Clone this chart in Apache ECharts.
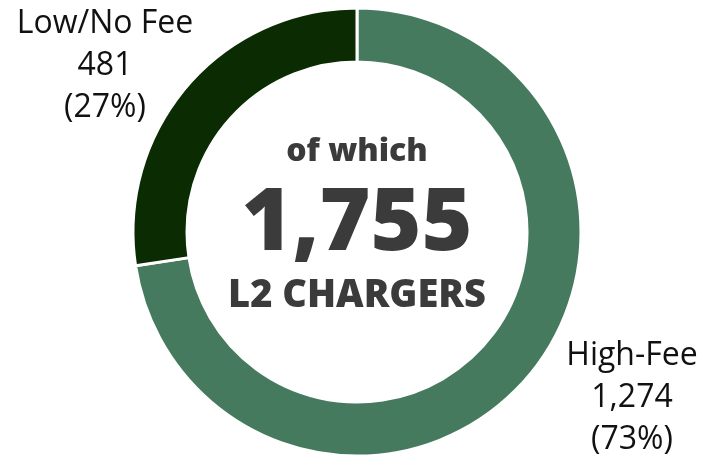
<!DOCTYPE html>
<html>
<head>
<meta charset="utf-8">
<script src="https://cdn.jsdelivr.net/npm/echarts@6/dist/echarts.min.js"></script>
<style>
  html, body { margin: 0; padding: 0; background: #fff; }
  #chart { width: 703px; height: 456px; }
</style>
</head>
<body>
<div id="chart"></div>
<script>
var categories = ["High-Fee", "Low/No Fee"];
var values = [1274, 481];
var colors = ["#467a5e", "#0b2b02"];
var centerLines = ["of which", "L2 CHARGERS"];

var total = values.reduce(function (a, b) { return a + b; }, 0);

var dom = document.getElementById("chart");
var myChart = echarts.init(dom, null, { renderer: "canvas" });

var pieData = categories.map(function (name, i) {
  return { name: name, value: values[i], itemStyle: { color: colors[i] } };
});

var option = {
  animation: false,
  textStyle: { fontFamily: "Open Sans" },
  series: [
    {
      type: "pie",
      center: [357, 232],
      radius: [170, 224],
      startAngle: 90,
      clockwise: true,
      itemStyle: { borderColor: "#fff", borderWidth: 3 },
      label: {
        show: true,
        position: "outside",
        fontFamily: "Open Sans",
        fontSize: 32,
        lineHeight: 42,
        color: "#111",
        align: "center",
        overflow: "none",
        width: 300,
        formatter: function (p) {
          return p.name + "\n" + p.value.toLocaleString("en-US") + "\n(" + Math.round(p.percent) + "%)";
        }
      },
      labelLine: { show: false },
      labelLayout: function (params) {
        if (params.dataIndex === 0) {
          return { x: 632, y: 398, align: "center", verticalAlign: "middle" };
        }
        return { x: 105, y: 66, align: "center", verticalAlign: "middle" };
      },
      emphasis: { disabled: true },
      data: pieData
    }
  ],
  graphic: [
    {
      type: "text", x: 357, y: 152,
      style: { text: centerLines[0], fontFamily: "Open Sans", fontWeight: 800, fontSize: 32,
        fill: "#3b3b3b", align: "center", verticalAlign: "middle" }
    },
    {
      type: "text", x: 357, y: 225,
      style: { text: total.toLocaleString("en-US"), fontFamily: "Open Sans", fontWeight: 800, fontSize: 87,
        fill: "#3b3b3b", align: "center", verticalAlign: "middle" }
    },
    {
      type: "text", x: 357, y: 296,
      style: { text: centerLines[1], fontFamily: "Open Sans", fontWeight: 800, fontSize: 38,
        fill: "#3b3b3b", align: "center", verticalAlign: "middle" }
    }
  ]
};

myChart.setOption(option);
window.addEventListener("resize", myChart.resize);
</script>
</body>
</html>
